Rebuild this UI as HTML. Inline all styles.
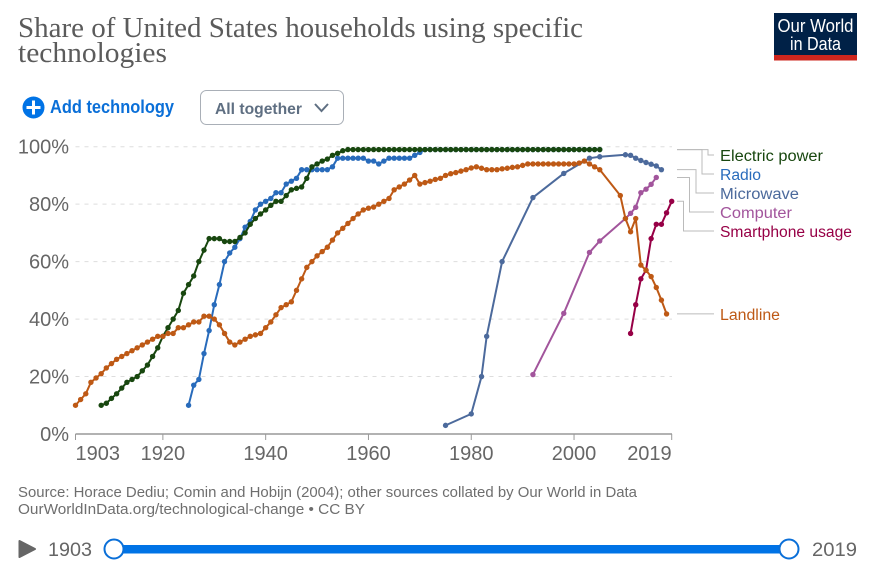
<!DOCTYPE html>
<html lang="en">
<head>
<meta charset="utf-8">
<title>Share of United States households using specific technologies</title>
<style>
html,body{margin:0;padding:0;background:#fff;width:870px;height:571px;overflow:hidden}
svg{display:block;font-family:"Liberation Sans",sans-serif}
</style>
</head>
<body>
<svg id="chart" width="870" height="571" viewBox="0 0 870 571" xmlns="http://www.w3.org/2000/svg">
  <rect width="870" height="571" fill="#ffffff"/>
  <g font-family="'Liberation Serif',serif" font-size="28" fill="#5b5b5b">
    <text x="18" y="37" textLength="565" lengthAdjust="spacingAndGlyphs">Share of United States households using specific</text>
    <text x="18" y="62" textLength="149" lengthAdjust="spacingAndGlyphs">technologies</text>
  </g>
  <g>
    <rect x="774" y="13" width="83" height="47" fill="#002147"/>
    <rect x="774" y="55" width="83" height="5.5" fill="#ce261e"/>
    <text x="815.5" y="32" text-anchor="middle" font-size="18" fill="#ffffff" textLength="76" lengthAdjust="spacingAndGlyphs">Our World</text>
    <text x="815.5" y="50" text-anchor="middle" font-size="18" fill="#ffffff" textLength="51" lengthAdjust="spacingAndGlyphs">in Data</text>
  </g>
  <g>
    <circle cx="33.5" cy="107.5" r="11" fill="#0073e6"/>
    <path d="M26.5 107.5H40.5M33.5 100.5V114.5" stroke="#fff" stroke-width="3"/>
    <text x="50" y="113" font-size="18.5" font-weight="bold" fill="#0a6fd8" textLength="124" lengthAdjust="spacingAndGlyphs">Add technology</text>
  </g>
  <g>
    <rect x="200.5" y="90.5" width="143" height="34" rx="6" fill="#fff" stroke="#a9afb7" stroke-width="1"/>
    <text x="215" y="114" font-size="15.5" font-weight="bold" fill="#5f6f82" textLength="87" lengthAdjust="spacingAndGlyphs">All together</text>
    <path d="M315 104L321.5 111L328 104" fill="none" stroke="#5f6f82" stroke-width="2"/>
  </g>
  <g id="grid"></g>
  <g id="yLabels"></g>
  <g id="xAxis"></g>
  <g id="series"></g>
  <g id="legend"></g>
  <g font-size="14.5" fill="#6e6e6e">
    <text x="18" y="497" textLength="619" lengthAdjust="spacingAndGlyphs">Source: Horace Dediu; Comin and Hobijn (2004); other sources collated by Our World in Data</text>
    <text x="18" y="514" textLength="347" lengthAdjust="spacingAndGlyphs">OurWorldInData.org/technological-change • CC BY</text>
  </g>
  <g>
    <path d="M19.5 541L35 549L19.5 557Z" fill="#666666" stroke="#666666" stroke-width="2" stroke-linejoin="round"/>
    <text x="48" y="556" font-size="19.5" fill="#666666" textLength="44" lengthAdjust="spacingAndGlyphs">1903</text>
    <rect x="114" y="545" width="675" height="8.5" fill="#0073e6"/>
    <circle cx="114" cy="549" r="9.5" fill="#fff" stroke="#0a6fd8" stroke-width="2"/>
    <circle cx="789" cy="549" r="9.5" fill="#fff" stroke="#0a6fd8" stroke-width="2"/>
    <text x="812" y="556" font-size="19.5" fill="#666666" textLength="45" lengthAdjust="spacingAndGlyphs">2019</text>
  </g>
</svg>
<script>
const yTicks = [0, 20, 40, 60, 80, 100];
const xTicks = [1903, 1920, 1940, 1960, 1980, 2000, 2019];

const landlineYears = [
  1903,1904,1905,1906,1907,1908,1909,
  1910,1911,1912,1913,1914,1915,1916,1917,1918,1919,
  1920,1921,1922,1923,1924,1925,1926,1927,1928,1929,
  1930,1931,1932,1933,1934,1935,1936,1937,1938,1939,
  1940,1941,1942,1943,1944,1945,1946,1947,1948,1949,
  1950,1951,1952,1953,1954,1955,1956,1957,1958,1959,
  1960,1961,1962,1963,1964,1965,1966,1967,1968,1969,
  1970,1971,1972,1973,1974,1975,1976,1977,1978,1979,
  1980,1981,1982,1983,1984,1985,1986,1987,1988,1989,
  1990,1991,1992,1993,1994,1995,1996,1997,1998,1999,
  2000,2001,2002,2003,2004,2005,
  2009,2010,2011,2012,2013,2014,2015,2016,2017,2018];
const landlineValues = [
  10,12,14,18,19.5,21,23,
  24.5,26,27,28,29,30,31,32,33,34,
  34,35,35,37,37,38,39,39,41,41,
  40,38,35,32,31,32,33,34,34.5,35,
  37,39,41.5,44,45,46,50,54,58,60,
  62,63.5,65,67.5,70,71.6,73.3,75,76.6,78,
  78.6,79,80,81,82,85,86,87,88.4,90,
  87,87.5,88,88.6,89,90,90.6,91,91.5,92,
  92.6,93,92.5,92,92,92,92.3,92.5,92.8,93,
  93.5,94,94,94,94,94,94,94,94,94,
  94,94.3,95,94,93,92,
  83,75,70.4,75,58.8,57,54.8,51,46.6,41.8];

const electricYears = [
  1908,1909,
  1910,1911,1912,1913,1914,1915,1916,1917,1918,1919,
  1920,1921,1922,1923,1924,1925,1926,1927,1928,1929,
  1930,1931,1932,1933,1934,1935,1936,1937,1938,1939,
  1940,1941,1942,1943,1944,1945,1946,1947,1948,1949,
  1950,1951,1952,1953,1954,1955,1956,1957,1958,1959,
  1960,1961,1962,1963,1964,1965,1966,1967,1968,1969,
  1970,1971,1972,1973,1974,1975,1976,1977,1978,1979,
  1980,1981,1982,1983,1984,1985,1986,1987,1988,1989,
  1990,1991,1992,1993,1994,1995,1996,1997,1998,1999,
  2000,2001,2002,2003,2004,2005];
const electricValues = [
  10,10.7,
  12.4,14,16,18,19,20,22,24,27,30,
  34,37,40,43,49,52,55,60,64,68,
  68,68,67,67,67,68.4,70,73,75,76.6,
  78,79.6,81,81,83,85,85.5,86,89,93,
  94,95,95.7,97,97.7,98.6,99,99,99,99,
  99,99,99,99,99,99,99,99,99,99,
  99,99,99,99,99,99,99,99,99,99,
  99,99,99,99,99,99,99,99,99,99,
  99,99,99,99,99,99,99,99,99,99,
  99,99,99,99,99,99];

const radioYears = [
  1925,1926,1927,1928,1929,
  1930,1931,1932,1933,1934,1935,1936,1937,1938,1939,
  1940,1941,1942,1943,1944,1945,1946,1947,1948,1949,
  1950,1951,1952,1953,1954,1955,1956,1957,1958,1959,
  1960,1961,1962,1963,1964,1965,1966,1967,1968,1969,
  1970,1971,1972,1973,1974,1975,1976,1977,1978,1979,
  1980,1981,1982,1983,1984,1985,1986,1987,1988,1989,
  1990,1991,1992,1993,1994,1995,1996,1997,1998,1999,
  2000,2001,2002,2003,2004,2005];
const radioValues = [
  10,17,19,28,36,
  45,52,60,63,65,68,72,74,78,80,
  81,82,84,84,87,88,89,92,92,92,
  92,92,92,93,96,96,96,96,96,96,
  95,95,94,95,96,96,96,96,96,97,
  98,99,99,99,99,99,99,99,99,99,
  99,99,99,99,99,99,99,99,99,99,
  99,99,99,99,99,99,99,99,99,99,
  99,99,99,99,99,99];

const microwaveYears = [1975,1980,1982,1983,1986,1992,1998,2003,2005,2010,2011,2012,2013,2014,2015,2016,2017];
const microwaveValues = [3,7,20,34,60,82.3,90.7,96,96.5,97.2,97,96,95.2,94.5,93.9,93.3,92];

const computerYears = [1992,1998,2003,2005,2010,2011,2012,2013,2014,2015,2016];
const computerValues = [20.7,42,63.2,67.2,75,76.8,78.9,84,85.2,86.9,89.3];

const smartphoneYears = [2011,2012,2013,2014,2015,2016,2017,2018,2019];
const smartphoneValues = [35,45,54,57,68,73,73,77,81];

const SVGNS = 'http://www.w3.org/2000/svg';
const x = function (year) { return 75.5 + (year - 1903) * (596.2 / 116); };
const y = function (value) { return 434 - value * 2.873; };

function make(tag, attrs, parent, text) {
  const el = document.createElementNS(SVGNS, tag);
  for (const k in attrs) el.setAttribute(k, attrs[k]);
  if (text !== undefined) el.textContent = text;
  parent.appendChild(el);
  return el;
}

const gridG = document.getElementById('grid');
const yG = document.getElementById('yLabels');
yTicks.forEach(function (t) {
  if (t > 0) {
    const g = make('line', {x1: 75.5, x2: 672, y1: y(t), y2: y(t), stroke: '#dddddd', 'stroke-width': 1, 'stroke-dasharray': '4,5'}, gridG);
    
    
  }
  const label = make('text', {x: 69, y: y(t) + 7, 'text-anchor': 'end', 'font-size': 20, fill: '#666666'}, yG, t + '%');
  
  
});

const xG = document.getElementById('xAxis');
const axisLine = make('line', {x1: 75.5, x2: 672, y1: 434, y2: 434, stroke: '#999999', 'stroke-width': 1.5}, xG);


xTicks.forEach(function (t, i) {
  const tick = make('line', {x1: x(t), x2: x(t), y1: 434, y2: 440, stroke: '#999999', 'stroke-width': 1}, xG);
  
  
  const anchor = i === 0 ? 'start' : (i === xTicks.length - 1 ? 'end' : 'middle');
  const label = make('text', {x: x(t), y: 460, 'text-anchor': anchor, 'font-size': 20, fill: '#666666'}, xG, String(t));
  
  
});

const seriesG = document.getElementById('series');
function drawSeries(name, years, values, color, r) {
  const g = make('g', {}, seriesG);
  
  
  const pts = years.map(function (yr, i) { return x(yr).toFixed(2) + ',' + y(values[i]).toFixed(2); }).join(' ');
  const line = make('polyline', {points: pts, fill: 'none', stroke: color, 'stroke-width': 2, 'stroke-linejoin': 'round'}, g);
  
  
  years.forEach(function (yr, i) {
    const c = make('circle', {cx: x(yr), cy: y(values[i]), r: r, fill: color}, g);
    
    
  });
}
drawSeries('microwave', microwaveYears, microwaveValues, '#4c6a9c', 2.7);
drawSeries('computer', computerYears, computerValues, '#a2559c', 2.7);
drawSeries('radio', radioYears, radioValues, '#286bbb', 2.7);
drawSeries('electric-power', electricYears, electricValues, '#18470f', 2.7);
drawSeries('smartphone-usage', smartphoneYears, smartphoneValues, '#970046', 2.7);
drawSeries('landline', landlineYears, landlineValues, '#be5915', 2.7);

const legendNames = ['Electric power', 'Radio', 'Microwave', 'Computer', 'Smartphone usage', 'Landline'];
const legendColors = ['#18470f', '#286bbb', '#4c6a9c', '#a2559c', '#970046', '#be5915'];
const legendWidths = [103, 41, 79, 72, 132, 60];
const legendEndValues = [99, 99, 92, 89.3, 81, 41.8];
const legendRows = [155, 174, 193, 212, 231, 314];
const legendElbows = [708, 702, 696, 689.5, 683.5, 0];

const legendG = document.getElementById('legend');
legendNames.forEach(function (name, i) {
  const sy = y(legendEndValues[i]);
  const ly = legendRows[i];
  const d = legendElbows[i]
    ? 'M677 ' + sy + 'H' + legendElbows[i] + 'V' + ly + 'H714'
    : 'M677 ' + sy + 'H714';
  const conn = make('path', {d: d, fill: 'none', stroke: '#bbbbbb', 'stroke-width': 1}, legendG);
  
  
  const label = make('text', {x: 720, y: ly + 6, 'font-size': 15.5, fill: legendColors[i], textLength: legendWidths[i], lengthAdjust: 'spacingAndGlyphs'}, legendG, name);
  
  
});
</script>
</body>
</html>
